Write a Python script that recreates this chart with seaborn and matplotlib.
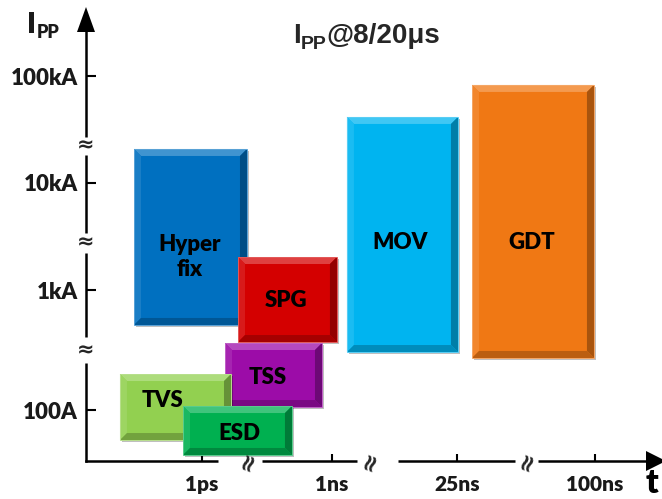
import matplotlib
matplotlib.use("Agg")
import matplotlib.pyplot as plt
import matplotlib.colors as mcolors
from matplotlib.patches import Polygon, Rectangle
import seaborn as sns

# schematic units: x axis 1ps=1, 1ns=2, ...; y axis 100A=2, 1kA~3, ...
devices = ["Hyperfix", "SPG", "MOV", "GDT", "TSS", "TVS", "ESD"]
labels = ["Hyper\nfix", "SPG", "MOV", "GDT", "TSS", "TVS", "ESD"]
x_left = [0.477, 1.277, 2.115, 3.077, 1.177, 0.369, 0.854]
x_right = [1.346, 2.038, 2.969, 4.015, 1.923, 1.223, 1.692]
y_bottom = [2.773, 2.618, 2.527, 2.473, 2.027, 1.727, 1.591]
y_top = [4.373, 3.391, 4.664, 4.955, 2.609, 2.327, 2.036]
label_x = [0.908, 1.646, 2.523, 3.538, 1.508, 0.700, 1.285]
label_y = [3.391, 3.0, 3.527, 3.527, 2.291, 2.082, 1.782]
colors = ["#0070C0", "#D40000", "#00B4F0", "#F07814", "#9C0CA8", "#92D050", "#00B050"]

x_ticks = [1.0, 2.0, 2.96, 4.02]
x_tick_labels = ["1ps", "1ns", "25ns", "100ns"]
y_ticks = [2.0, 3.09, 4.064, 5.036]
y_tick_labels = ["100A", "1kA", "10kA", "100kA"]

x_breaks = [1.354, 2.292, 3.5]
x_gaps = [(1.123, 1.462), (2.192, 2.508), (3.408, 3.585)]
y_breaks = [4.409, 3.527, 2.545]
y_gaps = [(4.318, 4.482), (3.427, 3.609), (2.427, 2.664)]

W, H = 662, 499
XLIM = (0.1077, 4.4462)
YLIM = (1.5364, 5.5455)

sns.set_theme(style="white")
plt.rcParams["font.family"] = ["Lato", "DejaVu Sans"]

fig = plt.figure(figsize=(W / 100, H / 100), dpi=100)
ax = fig.add_axes([86 / W, 38 / H, (650 - 86) / W, (479 - 38) / H])
ax.set_xlim(*XLIM)
ax.set_ylim(*YLIM)
sns.despine(ax=ax)
for s in ["left", "bottom"]:
    ax.spines[s].set_linewidth(1.8)
    ax.spines[s].set_color("black")

px_x = (XLIM[1] - XLIM[0]) / 564
px_y = (YLIM[1] - YLIM[0]) / 441


def mix(c, other, t):
    a = mcolors.to_rgb(c)
    b = mcolors.to_rgb(other)
    return tuple(a[i] * (1 - t) + b[i] * t for i in range(3))


bev = 7
for i, dev in enumerate(devices):
    x0, x1, y0, y1 = x_left[i], x_right[i], y_bottom[i], y_top[i]
    c = colors[i]
    z = 1 + i * 0.1
    bx, by = bev * px_x, bev * px_y
    ax.add_patch(Rectangle((x0 + 2 * px_x, y0 - 2 * px_y), x1 - x0, y1 - y0,
                           color="black", alpha=0.25, lw=0, zorder=z))
    ax.add_patch(Rectangle((x0, y0), x1 - x0, y1 - y0, color=c, lw=0, zorder=z + 0.01))
    ax.add_patch(Polygon([(x0, y1), (x1, y1), (x1 - bx, y1 - by), (x0 + bx, y1 - by)],
                         color=mix(c, "white", 0.25), lw=0, zorder=z + 0.02))
    ax.add_patch(Polygon([(x0, y0), (x0, y1), (x0 + bx, y1 - by), (x0 + bx, y0 + by)],
                         color=mix(c, "white", 0.1), lw=0, zorder=z + 0.02))
    ax.add_patch(Polygon([(x1, y0), (x1, y1), (x1 - bx, y1 - by), (x1 - bx, y0 + by)],
                         color=mix(c, "black", 0.3), lw=0, zorder=z + 0.02))
    ax.add_patch(Polygon([(x0, y0), (x1, y0), (x1 - bx, y0 + by), (x0 + bx, y0 + by)],
                         color=mix(c, "black", 0.22), lw=0, zorder=z + 0.02))
    ax.add_patch(Rectangle((x0, y0), x1 - x0, y1 - y0, fill=False,
                           ec=mix(c, "white", 0.35), lw=0.7, zorder=z + 0.03))
    ax.text(label_x[i], label_y[i], labels[i], ha="center", va="center",
            fontsize=16, fontweight="heavy", color="black", linespacing=1.25,
            zorder=z + 0.04)

ax.set_xticks(x_ticks, x_tick_labels)
ax.set_yticks(y_ticks, y_tick_labels)
ax.tick_params(axis="x", bottom=True, direction="in", length=5, width=1.5, color="black",
               pad=10, labelsize=15, labelcolor="#1a1a1a")
ax.tick_params(axis="y", left=True, direction="in", length=7, width=1.5, color="black",
               pad=6, labelsize=16, labelcolor="#1a1a1a")
for t in ax.get_xticklabels() + ax.get_yticklabels():
    t.set_fontweight("heavy")

# axis breaks
for a, b in x_gaps:
    ax.plot([a, b], [YLIM[0], YLIM[0]], color="white", lw=5, solid_capstyle="butt",
            clip_on=False, zorder=3)
for a, b in y_gaps:
    ax.plot([XLIM[0], XLIM[0]], [a, b], color="white", lw=5, solid_capstyle="butt",
            clip_on=False, zorder=3)
for xb in x_breaks:
    ax.text(xb, YLIM[0], "≈", rotation=70, ha="center", va="center", fontsize=17,
            fontweight="bold", family="DejaVu Sans", clip_on=False, zorder=4)
for yb in y_breaks:
    ax.text(XLIM[0], yb, "≈", ha="center", va="center", fontsize=15,
            fontweight="bold", family="DejaVu Sans", clip_on=False, zorder=4)

# arrow heads
ax.add_patch(Polygon([(XLIM[0], YLIM[0] + (461 - 7) * px_y),
                      (XLIM[0] - 9 * px_x, YLIM[0] + (461 - 32) * px_y),
                      (XLIM[0] + 9 * px_x, YLIM[0] + (461 - 32) * px_y)],
                     color="black", lw=0, clip_on=False, zorder=4))
ax.add_patch(Polygon([(XLIM[0] + (666 - 86) * px_x, YLIM[0]),
                      (XLIM[0] + (646 - 86) * px_x, YLIM[0] + 10 * px_y),
                      (XLIM[0] + (646 - 86) * px_x, YLIM[0] - 10 * px_y)],
                     color="black", lw=0, clip_on=False, zorder=4))

# axis names
t_i = fig.text(27 / W, 1 - 33 / H, "I", fontsize=21, fontweight="heavy", color="#1a1a1a",
               ha="left", va="baseline")
ax.annotate("PP", xy=(1, 0), xycoords=t_i, xytext=(0.5, -2), textcoords="offset points",
            fontsize=13, fontweight="heavy", color="#1a1a1a", ha="left", va="bottom",
            annotation_clip=False)
fig.text(646 / W, 1 - 493 / H, "t", fontsize=24, fontweight="heavy", color="black",
         ha="left", va="baseline")

# title
tf = ["Liberation Sans", "DejaVu Sans"]
t1 = fig.text(293 / W, 1 - 43 / H, "I", fontsize=20, fontweight="bold", family=tf,
              ha="left", va="baseline")
t2 = ax.annotate("PP", xy=(1, 0), xycoords=t1, xytext=(0, -3), textcoords="offset points",
                 fontsize=14, fontweight="bold", family=tf, ha="left", va="bottom",
                 annotation_clip=False)
ax.annotate("@8/20μs", xy=(1, 0), xycoords=(t2, t1), fontsize=20, fontweight="bold",
            family=tf, ha="left", va="bottom", annotation_clip=False)

fig.savefig("out.png", dpi=100)
